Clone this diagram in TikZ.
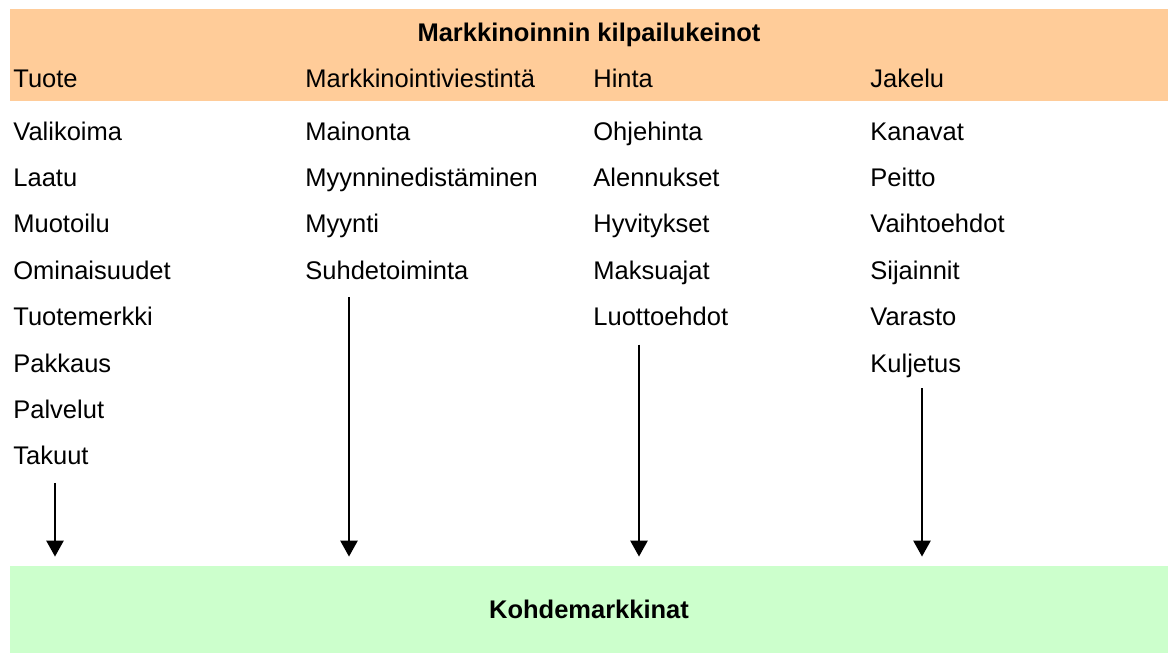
\documentclass[tikz,border=0pt]{standalone}
\usepackage{fontspec}
\setmainfont{Liberation Sans}
\usepackage{xcolor}
\usepackage{tikz}
\usetikzlibrary{arrows.meta, positioning, calc}
\definecolor{mkorange}{HTML}{FFCC99}
\definecolor{mkgreen}{HTML}{CCFFCC}

\begin{document}
\begin{tikzpicture}[
  x=0.5pt, y=-0.5pt,
  band/.style={rectangle, fill=#1, draw=none, minimum width=579pt, inner sep=0pt},
  item/.style={font=\fontsize{12.75}{15}\selectfont, inner sep=0pt, anchor=base west},
  next/.style={below=23.2pt of #1.base west, anchor=base west},
  arr/.style={-{Triangle[width=8.5pt, length=8pt]}, line width=1.3pt, shorten >=4.5pt},
]
  \useasboundingbox (0,0) rectangle (1172,653);
  \node[band=mkorange, minimum height=46pt] (keinot) at (589,55) {};
  \node[band=mkgreen, minimum height=43.5pt, font=\fontsize{12.75}{15}\selectfont\bfseries]
    (kohde) at (589,609.5) {Kohdemarkkinat};
  \node[item, anchor=base, font=\fontsize{12.75}{15}\selectfont\bfseries]
    (otsikko) at (589,41) {Markkinoinnin kilpailukeinot};

  % otsikkorivi
  \node[item] (tuote) at (13,87) {Tuote};
  \node[item] (viestinta) at (305,87) {Markkinointiviestintä};
  \node[item] (hinta) at (593,87) {Hinta};
  \node[item] (jakelu) at (870,87) {Jakelu};

  % Tuote
  \node[item, below=26.5pt of tuote.base west, anchor=base west] (valikoima) {Valikoima};
  \node[item, next=valikoima] (laatu) {Laatu};
  \node[item, next=laatu] (muotoilu) {Muotoilu};
  \node[item, next=muotoilu] (ominaisuudet) {Ominaisuudet};
  \node[item, next=ominaisuudet] (tuotemerkki) {Tuotemerkki};
  \node[item, next=tuotemerkki] (pakkaus) {Pakkaus};
  \node[item, next=pakkaus] (palvelut) {Palvelut};
  \node[item, next=palvelut] (takuut) {Takuut};

  % Markkinointiviestinta
  \node[item, below=26.5pt of viestinta.base west, anchor=base west] (mainonta) {Mainonta};
  \node[item, next=mainonta] (myynnined) {Myynninedistäminen};
  \node[item, next=myynnined] (myynti) {Myynti};
  \node[item, next=myynti] (suhde) {Suhdetoiminta};

  % Hinta
  \node[item, below=26.5pt of hinta.base west, anchor=base west] (ohjehinta) {Ohjehinta};
  \node[item, next=ohjehinta] (alennukset) {Alennukset};
  \node[item, next=alennukset] (hyvitykset) {Hyvitykset};
  \node[item, next=hyvitykset] (maksuajat) {Maksuajat};
  \node[item, next=maksuajat] (luotto) {Luottoehdot};

  % Jakelu
  \node[item, below=26.5pt of jakelu.base west, anchor=base west] (kanavat) {Kanavat};
  \node[item, next=kanavat] (peitto) {Peitto};
  \node[item, next=peitto] (vaihtoehdot) {Vaihtoehdot};
  \node[item, next=vaihtoehdot] (sijainnit) {Sijainnit};
  \node[item, next=sijainnit] (varasto) {Varasto};
  \node[item, next=varasto] (kuljetus) {Kuljetus};

  % nuolet
  \coordinate (n1) at ($(takuut.base west)+(42,18)$);
  \coordinate (n2) at ($(suhde.base west)+(44,18)$);
  \coordinate (n3) at ($(luotto.base west)+(46,19)$);
  \coordinate (n4) at ($(kuljetus.base west)+(52,16)$);
  \draw[arr] (n1) -- (n1 |- kohde.north);
  \draw[arr] (n2) -- (n2 |- kohde.north);
  \draw[arr] (n3) -- (n3 |- kohde.north);
  \draw[arr] (n4) -- (n4 |- kohde.north);
\end{tikzpicture}
\end{document}
